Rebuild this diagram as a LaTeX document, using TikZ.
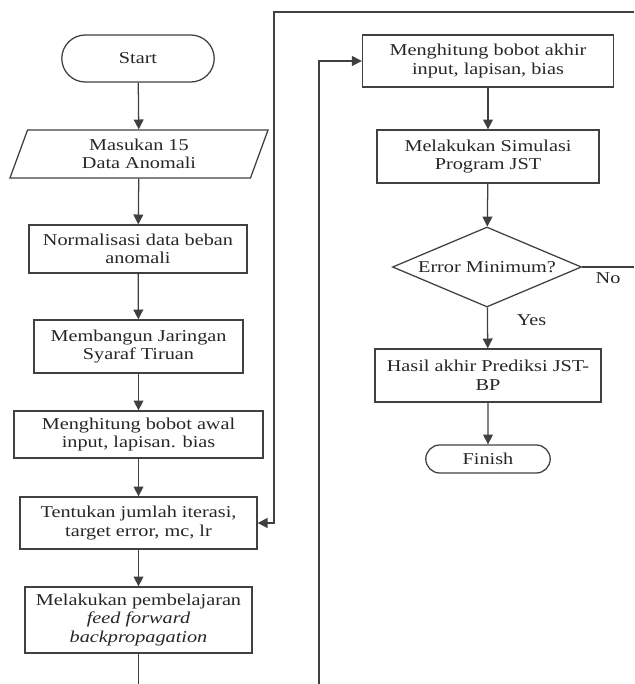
\documentclass[tikz,border=0pt]{standalone}
\usepackage{fontspec}
\setmainfont[FakeStretch=1.22]{Liberation Serif}
\usetikzlibrary{shapes.geometric,shapes.misc,arrows.meta}

\begin{document}
\begin{tikzpicture}[x=0.025cm, y=-0.025cm, line width=0.9pt, color=black!75,
    every node/.style={font=\fontsize{11.8}{13.2}\selectfont, text=black!85},
    box/.style={draw, rectangle, align=center, inner sep=2pt},
    term/.style={draw, rounded rectangle, align=center, inner sep=2pt},
    io/.style={draw, trapezium, trapezium left angle=62, trapezium right angle=118,
        trapezium stretches body, align=center, inner sep=1pt},
    decide/.style={draw, diamond, aspect=2.36, inner sep=1pt},
    arr/.style={-{Triangle[length=7pt,width=7pt]}}]
    \useasboundingbox (0,0) rectangle (634,684);

    % Left column
    \node[term, minimum width=3.95cm, minimum height=1.175cm] (start) at (138,58.5) {Start};
    \node[io, minimum width=6.45cm, minimum height=1.2cm] (input) at (139,154) {Masukan 15\\Data Anomali};
    \node[box, minimum width=5.45cm, minimum height=1.2cm] (norm) at (138,249) {Normalisasi data beban\\anomali};
    \node[box, minimum width=5.225cm, minimum height=1.325cm] (jst) at (138.5,346.5) {Membangun Jaringan\\Syaraf Tiruan};
    \node[box, minimum width=6.225cm, minimum height=1.175cm] (wawal) at (138.5,434.5) {Menghitung bobot awal\\input, lapisan. bias};
    \node[box, minimum width=5.925cm, minimum height=1.3cm] (param) at (138.5,523) {Tentukan jumlah iterasi,\\target error, mc, lr};
    \node[box, minimum width=5.675cm, minimum height=1.65cm] (train) at (138.5,620) {Melakukan pembelajaran\\\textit{feed forward}\\\textit{backpropagation}};

    % Right column
    \node[box, minimum width=6.275cm, minimum height=1.3cm] (wakhir) at (488,61) {Menghitung bobot akhir\\input, lapisan, bias};
    \node[box, minimum width=5.55cm, minimum height=1.325cm] (simul) at (488,156.5) {Melakukan Simulasi\\Program JST};
    \node[decide, minimum width=4.725cm, minimum height=2cm] (errmin) at (487,267) {Error Minimum?};
    \node[box, minimum width=5.65cm, minimum height=1.325cm] (hasil) at (488,375.5) {Hasil akhir Prediksi JST-\\BP};
    \node[term, minimum width=3.25cm, minimum height=0.7cm] (finish) at (488,459) {Finish};

    % Loose ends at the edges
    \coordinate (noend) at (634,267);
    \coordinate (topR) at (634,12);
    \coordinate (topL) at (274,12);
    \coordinate (trainend) at (138.5,684);
    \coordinate (loopB) at (319,684);

    % Flow
    \draw[arr] (start) -- (input);
    \draw[arr] (input) -- (norm);
    \draw[arr] (norm) -- (jst);
    \draw[arr] (jst) -- (wawal);
    \draw[arr] (wawal) -- (param);
    \draw[arr] (param) -- (train);
    \draw (train) -- (trainend);
    \draw[arr] (loopB) -- (loopB |- wakhir) -- (wakhir);
    \draw[arr] (wakhir) -- (simul);
    \draw[arr] (simul) -- (errmin);
    \draw[arr] (errmin) -- node[pos=0.3, right=0.6cm] {Yes} (hasil);
    \draw[arr] (hasil) -- (finish);

    % Back to the parameters
    \draw (errmin.east) -- node[midway, below] {No} (noend);
    \draw[arr] (topR) -- (topL) -- (topL |- param.east) -- (param.east);
\end{tikzpicture}
\end{document}
